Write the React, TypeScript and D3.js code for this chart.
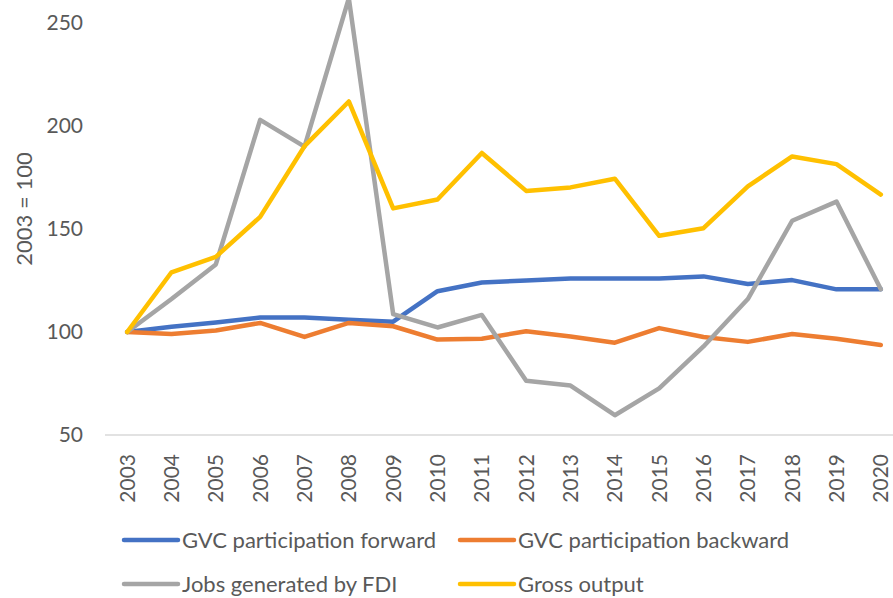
// @ts-nocheck
import React from "react";
import * as d3 from "d3";

const years = ["2003", "2004", "2005", "2006", "2007", "2008", "2009", "2010", "2011",
  "2012", "2013", "2014", "2015", "2016", "2017", "2018", "2019", "2020"];

const gvcForward = [100, 102.6, 104.6, 107, 107, 106, 105, 119.8, 124, 125, 126, 126, 126, 127, 123.3, 125.2, 120.7, 120.7];
const gvcBackward = [100, 99, 100.7, 104.4, 97.6, 104.4, 102.8, 96.3, 96.7, 100.4, 97.8, 94.8, 101.9, 97.6, 95.2, 99, 96.7, 93.7];
const jobsFdi = [100, 116, 132.8, 203, 190, 262, 108.7, 102.2, 108.3, 76.3, 74, 59.6, 72.6, 93, 116, 154, 163.3, 120.7];
const grossOutput = [100, 129, 136.5, 155.9, 190.2, 211.9, 160, 164.3, 186.9, 168.5, 170.2, 174.4, 146.7, 150.4, 170.7, 185.2, 181.5, 166.7];

const yTicks = [50, 100, 150, 200, 250];

const series = [
  { name: "GVC participation forward", color: "#4472C4", values: gvcForward },
  { name: "GVC participation backward", color: "#ED7D31", values: gvcBackward },
  { name: "Jobs generated by FDI", color: "#A5A5A5", values: jobsFdi },
  { name: "Gross output", color: "#FFC000", values: grossOutput },
];

const W = 893;
const H = 598;
const FONT = "Lato, 'Liberation Sans', sans-serif";
const TEXT = "#595959";

const App = () => {
  const svgRef = React.useRef(null);

  React.useEffect(() => {
    const svg = d3.select(svgRef.current);
    svg.selectAll("*").remove();

    const x = d3.scaleBand().domain(years).range([105, 903]);
    const y = d3.scaleLinear().domain([50, 250]).range([435, 23]);
    const cx = (yr) => x(yr) + x.bandwidth() / 2;

    // baseline at the bottom of the plot
    svg.append("line")
      .attr("x1", 105).attr("x2", W)
      .attr("y1", y(50)).attr("y2", y(50))
      .attr("stroke", "#D9D9D9")
      .attr("stroke-width", 1.3);

    // y tick labels
    svg.append("g")
      .selectAll("text")
      .data(yTicks)
      .enter()
      .append("text")
      .attr("x", 83)
      .attr("y", d => y(d))
      .attr("dy", "0.35em")
      .attr("text-anchor", "end")
      .attr("font-family", FONT)
      .attr("font-size", 21)
      .attr("fill", TEXT)
      .text(d => d);

    // y title
    svg.append("text")
      .attr("transform", `translate(24, 209) rotate(-90)`)
      .attr("dy", "0.35em")
      .attr("text-anchor", "middle")
      .attr("font-family", FONT)
      .attr("font-size", 22)
      .attr("fill", TEXT)
      .text("2003 = 100");

    // x tick labels, rotated
    svg.append("g")
      .selectAll("text")
      .data(years)
      .enter()
      .append("text")
      .attr("transform", d => `translate(${cx(d)}, 454) rotate(-90)`)
      .attr("dy", "0.35em")
      .attr("text-anchor", "end")
      .attr("font-family", FONT)
      .attr("font-size", 21)
      .attr("fill", TEXT)
      .text(d => d);

    // lines
    const line = d3.line()
      .x((d, i) => cx(years[i]))
      .y(d => y(d));
    svg.append("g")
      .selectAll("path")
      .data(series)
      .enter()
      .append("path")
      .attr("fill", "none")
      .attr("stroke", d => d.color)
      .attr("stroke-width", 4.5)
      .attr("stroke-linejoin", "round")
      .attr("stroke-linecap", "round")
      .attr("d", d => line(d.values));

    // legend
    const legendPos = [[124, 540], [460, 540], [124, 584], [460, 584]];
    const legend = svg.append("g")
      .selectAll("g")
      .data(series)
      .enter()
      .append("g")
      .attr("transform", (d, i) => `translate(${legendPos[i][0]}, ${legendPos[i][1]})`);
    legend.append("line")
      .attr("x1", 0).attr("x2", 54)
      .attr("stroke", d => d.color)
      .attr("stroke-width", 4.5)
      .attr("stroke-linecap", "round");
    legend.append("text")
      .attr("x", 58)
      .attr("dy", "0.35em")
      .attr("font-family", FONT)
      .attr("font-size", 22)
      .attr("fill", TEXT)
      .text(d => d.name);
  }, []);

  return (
    <svg ref={svgRef} width={W} height={H}
      style={{ position: "absolute", left: 0, top: 0, background: "#fff" }} />
  );
};

export default App;
